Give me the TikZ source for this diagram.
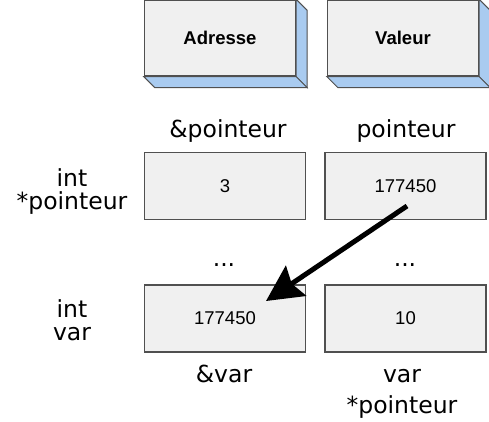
\documentclass[tikz,border=0pt]{standalone}
\usepackage{fontspec}
\setmainfont{DejaVu Sans}
\newfontfamily\arialfont{Liberation Sans}
\usetikzlibrary{arrows.meta, positioning}
\definecolor{facegray}{HTML}{F0F0F0}
\definecolor{sideblue}{HTML}{A9CBF0}
\definecolor{edgegray}{HTML}{505050}
\begin{document}
\begin{tikzpicture}[
    x=1pt, y=-1pt,
    lbl/.style={font=\fontsize{23.5}{22.5}\selectfont, align=center, inner sep=0pt},
    head/.style={draw=edgegray, line width=1.3pt, fill=facegray, minimum width=151pt,
                 minimum height=76pt, font=\arialfont\bfseries\fontsize{18.5}{20}\selectfont},
    cell/.style={draw=edgegray, line width=1.1pt, fill=facegray, minimum width=161pt,
                 minimum height=67pt, font=\arialfont\fontsize{18.5}{20}\selectfont},
    side/.style={fill=sideblue, draw=edgegray, line width=1pt},
    ar/.style={-{Stealth[length=36pt, width=36pt, inset=5pt]}, line width=5pt, black}
]
\useasboundingbox (0,0) rectangle (489,422);
% header boxes with depth
\node[head] (adr) at (220,38) {Adresse};
\node[head] (val) at (403,38) {Valeur};
\foreach \n in {adr, val} {
   \filldraw[side] (\n.north east) -- ++(11,11) -- ([shift={(11,11)}]\n.south east)
      -- (\n.south east) -- cycle;
   \filldraw[side] (\n.south west) -- (\n.south east) -- ++(11,11)
      -- ([shift={(11,11)}]\n.south west) -- cycle;
}
% address / value labels
\node[lbl, anchor=base] (adrp) at (228,138) {\&pointeur};
\node[lbl, anchor=base] (valp) at (406,138) {pointeur};
% memory cells
\node[cell] (a1) at (225,186) {3};
\node[cell] (v1) at (405.5,186) {177450};
\node[lbl, anchor=base] (dotsa) at (224,266) {...};
\node[lbl, anchor=base] (dotsv) at (405,266) {...};
\node[cell] (a2) at (225,318.5) {177450};
\node[cell] (v2) at (405.5,318.5) {10};
\node[lbl, anchor=base] (adrv) at (224,382) {\&var};
\node[lbl, anchor=base] (valv) at (402,413) {var\\[8pt]*pointeur};
% declarations (base = last line)
\node[lbl, anchor=base] (decp) at (72,209) {int\\*pointeur};
\node[lbl, anchor=base] (decv) at (72,340) {int\\var};
% pointer arrow
\coordinate (src) at (407,206);
\coordinate (dst) at (266,301);
\draw[ar] (src) -- (dst);
\end{tikzpicture}
\end{document}
